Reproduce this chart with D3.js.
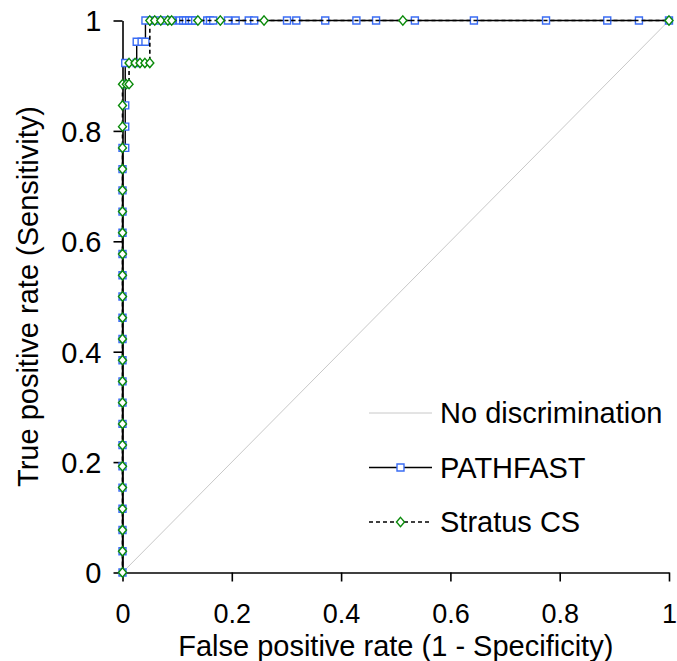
<!DOCTYPE html>
<html>
<head>
<meta charset="utf-8">
<script src="https://cdn.jsdelivr.net/npm/d3@7"></script>
<style>
  html, body { margin: 0; padding: 0; background: #fff; }
  svg text { font-family: "Liberation Sans", Arial, sans-serif; fill: #000; }
</style>
</head>
<body>
<svg id="chart" width="677" height="661"></svg>
<script>
// ROC curves: 26 positive cases, so sensitivity moves in steps of 1/26.
const nPos = 26;

// PATHFAST operating points (false positive rate, true positive count)
const pathfastFpr = [
  0,0,0,0,0,0,0,0,0,0,0,0,0,0,0,0,0,0,0,0,0,
  0.005,0.005,0.005,0.005,0.005,
  0.026,0.026,0.035,0.042,
  0.042,0.054,0.066,0.078,0.091,0.105,0.111,0.116,0.122,0.127,0.133,
  0.155,0.160,0.166,0.193,0.207,0.231,0.241,0.301,0.318,0.371,0.428,
  0.464,0.535,0.643,0.775,0.887,0.945,1.0
];
const pathfastTp = [
  0,1,2,3,4,5,6,7,8,9,10,11,12,13,14,15,16,17,18,19,20,
  20,21,22,23,24,
  24,25,25,25,
  26,26,26,26,26,26,26,26,26,26,26,
  26,26,26,26,26,26,26,26,26,26,26,
  26,26,26,26,26,26,26
];

// Stratus CS operating points
const stratusFpr = [
  0,0,0,0,0,0,0,0,0,0,0,0,0,0,0,0,0,0,0,0,0,0,0,0,
  0.007,0.012,
  0.012,0.023,0.032,0.041,0.050,
  0.050,0.059,0.070,0.083,0.090,0.138,0.179,0.259,0.513,1.0
];
const stratusTp = [
  0,1,2,3,4,5,6,7,8,9,10,11,12,13,14,15,16,17,18,19,20,21,22,23,
  23,23,
  24,24,24,24,24,
  26,26,26,26,26,26,26,26,26,26
];

const xTicks = [0, 0.2, 0.4, 0.6, 0.8, 1];
const yTicks = [0, 0.2, 0.4, 0.6, 0.8, 1];
const legendLabels = ["No discrimination", "PATHFAST", "Stratus CS"];

const pathfast = pathfastFpr.map((f, i) => ({ x: f, y: pathfastTp[i] / nPos }));
const stratus = stratusFpr.map((f, i) => ({ x: f, y: stratusTp[i] / nPos }));

const svg = d3.select("#chart");
const fontSize = 29;
const xTickFont = 27;

const x = d3.scaleLinear().domain([0, 1]).range([122.5, 669]);
const y = d3.scaleLinear().domain([0, 1]).range([572.5, 20.5]);

// Chance diagonal
svg.append("line")
  .attr("x1", x(0)).attr("y1", y(0))
  .attr("x2", x(1)).attr("y2", y(1))
  .attr("stroke", "#c8c8c8").attr("stroke-width", 1);

// Axes
const xAxis = svg.append("g")
  .attr("transform", `translate(0,${y(0)})`)
  .call(d3.axisBottom(x).tickValues(xTicks).tickFormat(d => String(d))
    .tickSize(9).tickSizeOuter(0).tickPadding(22));
const yAxis = svg.append("g")
  .attr("transform", `translate(${x(0)},0)`)
  .call(d3.axisLeft(y).tickValues(yTicks).tickFormat(d => String(d))
    .tickSize(9).tickSizeOuter(0).tickPadding(12));
[xAxis, yAxis].forEach(g => {
  g.select(".domain").attr("stroke", "#000").attr("stroke-width", 1.6);
  g.selectAll(".tick line").attr("stroke", "#000").attr("stroke-width", 1.6);
  g.selectAll(".tick text")
    .attr("font-family", "Liberation Sans, Arial, sans-serif")
    .attr("fill", "#000");
});
xAxis.selectAll(".tick text").attr("font-size", xTickFont);
yAxis.selectAll(".tick text").attr("font-size", fontSize).attr("dy", "0.36em");

// Axis titles
svg.append("text")
  .attr("x", (x(0) + x(1)) / 2).attr("y", 656)
  .attr("text-anchor", "middle").attr("font-size", fontSize)
  .text("False positive rate (1 - Specificity)");
svg.append("text")
  .attr("transform", `translate(38,${(y(0) + y(1)) / 2}) rotate(-90)`)
  .attr("text-anchor", "middle").attr("font-size", fontSize)
  .text("True positive rate (Sensitivity)");

const line = d3.line().x(d => x(d.x)).y(d => y(d.y));

const squarePath = "M-3.5,-3.5H3.5V3.5H-3.5Z";
const diamondPath = "M0,-4.6L4,0L0,4.6L-4,0Z";
const blue = "#3a6cf4";
const green = "#0a8a0a";

// PATHFAST curve
svg.append("path").datum(pathfast)
  .attr("d", line).attr("fill", "none")
  .attr("stroke", "#000").attr("stroke-width", 1.4);
svg.append("g").selectAll("path").data(pathfast).join("path")
  .attr("d", squarePath)
  .attr("transform", d => `translate(${x(d.x)},${y(d.y)})`)
  .attr("fill", "#fff").attr("stroke", blue).attr("stroke-width", 1.4);

// Stratus CS curve
svg.append("path").datum(stratus)
  .attr("d", line).attr("fill", "none")
  .attr("stroke", "#000").attr("stroke-width", 1.6)
  .attr("stroke-dasharray", "4,3");
svg.append("g").selectAll("path").data(stratus).join("path")
  .attr("d", diamondPath)
  .attr("transform", d => `translate(${x(d.x)},${y(d.y)})`)
  .attr("fill", "#fff").attr("stroke", green).attr("stroke-width", 1.4);

// Legend
const legend = svg.append("g").attr("transform", "translate(369,413)");
const rowGap = 54.5;
const styles = [
  { stroke: "#c8c8c8", width: 1, dash: null, marker: null },
  { stroke: "#000", width: 1.4, dash: null, marker: { d: squarePath, c: blue } },
  { stroke: "#000", width: 1.6, dash: "4,3", marker: { d: diamondPath, c: green } }
];
legendLabels.forEach((label, i) => {
  const row = legend.append("g").attr("transform", `translate(0,${i * rowGap})`);
  const s = styles[i];
  row.append("line").attr("x1", 0).attr("x2", 63).attr("y1", 0).attr("y2", 0)
    .attr("stroke", s.stroke).attr("stroke-width", s.width)
    .attr("stroke-dasharray", s.dash);
  if (s.marker) {
    row.append("path").attr("d", s.marker.d).attr("transform", "translate(31.5,0)")
      .attr("fill", "#fff").attr("stroke", s.marker.c).attr("stroke-width", 1.4);
  }
  row.append("text").attr("x", 71).attr("y", 0).attr("dy", "0.36em")
    .attr("font-size", fontSize).text(label);
});
</script>
</body>
</html>
